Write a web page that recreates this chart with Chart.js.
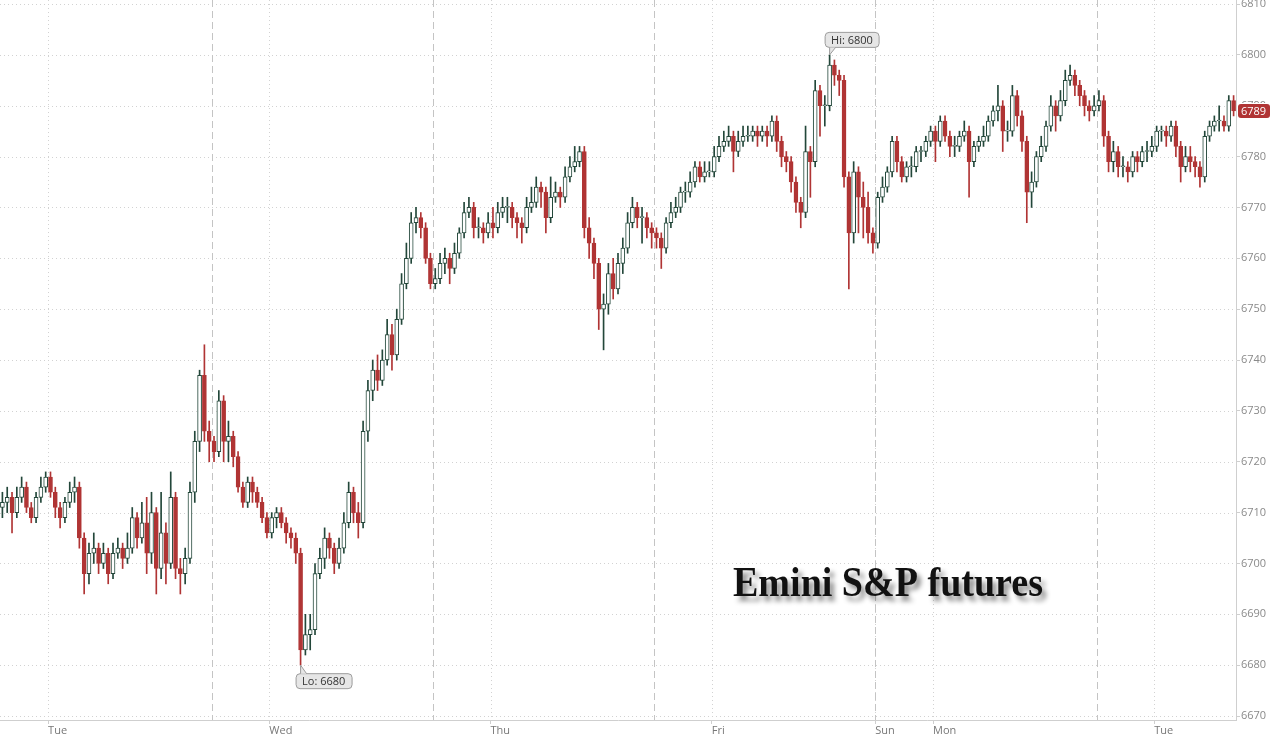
<!DOCTYPE html>
<html>
<head>
<meta charset="utf-8">
<script src="https://cdn.jsdelivr.net/npm/chart.js@4.4.1/dist/chart.umd.min.js"></script>
<style>
  html, body { margin: 0; padding: 0; background: #fff; }
  #wrap { width: 1280px; height: 740px; position: relative; }
</style>
</head>
<body>
<div id="wrap"><canvas id="chart"></canvas></div>
<script>
// 30-minute candles, ES futures. open of each bar = previous close
const firstOpen = 6711;

const closes = [
  6712, 6713, 6710, 6713, 6715, 6711, 6709, 6713, 6715, 6717,
  6714, 6711, 6709, 6712, 6714, 6715, 6705, 6698, 6702, 6703,
  6700, 6702, 6698, 6702, 6703, 6701, 6703, 6709, 6705, 6708,
  6702, 6710, 6699, 6706, 6700, 6713, 6699, 6698, 6701, 6714,
  6724, 6737, 6726, 6724, 6722, 6732, 6724, 6725, 6721, 6715,
  6712, 6716, 6714, 6712, 6709, 6706, 6709, 6710, 6708, 6706,
  6705, 6702, 6683, 6686, 6687, 6698, 6701, 6705, 6703, 6700,
  6703, 6708, 6714, 6710, 6708, 6726, 6734, 6738, 6736, 6740,
  6745, 6741, 6748, 6755, 6760, 6767, 6768, 6766, 6760, 6755,
  6756, 6759, 6760, 6758, 6761, 6765, 6769, 6770, 6766, 6766,
  6765, 6767, 6766, 6769, 6770, 6770, 6768, 6767, 6766, 6770,
  6771, 6774, 6773, 6768, 6772, 6773, 6772, 6776, 6778, 6779,
  6781, 6766, 6763, 6759, 6750, 6751, 6757, 6754, 6759, 6762,
  6767, 6770, 6768, 6768, 6766, 6765, 6764, 6762, 6767, 6769,
  6770, 6773, 6773, 6775, 6778, 6776, 6777, 6777, 6780, 6782,
  6783, 6784, 6781, 6783, 6784, 6784, 6785, 6784, 6785, 6784,
  6787, 6783, 6780, 6779, 6775, 6771, 6769, 6781, 6779, 6793,
  6790, 6790, 6798, 6796, 6795, 6776, 6765, 6777, 6772, 6770,
  6765, 6763, 6772, 6774, 6777, 6783, 6779, 6776, 6778, 6778,
  6781, 6781, 6783, 6785, 6783, 6787, 6784, 6782, 6782, 6784,
  6785, 6779, 6782, 6783, 6784, 6787, 6789, 6790, 6785, 6785,
  6792, 6788, 6783, 6773, 6775, 6780, 6782, 6786, 6790, 6788,
  6791, 6795, 6796, 6794, 6792, 6790, 6789, 6790, 6791, 6784,
  6779, 6781, 6778, 6778, 6777, 6780, 6779, 6781, 6781, 6782,
  6785, 6785, 6784, 6786, 6782, 6778, 6780, 6779, 6778, 6776,
  6784, 6786, 6787, 6787, 6786, 6791, 6789
];

const highs = [
  6714, 6715, 6714, 6715, 6717, 6716, 6712, 6714, 6717, 6718,
  6718, 6715, 6712, 6713, 6716, 6717, 6716, 6706, 6704, 6706,
  6704, 6704, 6703, 6704, 6705, 6704, 6706, 6711, 6710, 6712,
  6713, 6714, 6711, 6714, 6708, 6718, 6714, 6701, 6703, 6716,
  6726, 6738, 6743, 6728, 6725, 6734, 6733, 6728, 6726, 6722,
  6716, 6717, 6717, 6715, 6713, 6710, 6710, 6711, 6711, 6709,
  6707, 6706, 6703, 6690, 6690, 6700, 6703, 6707, 6706, 6704,
  6705, 6710, 6716, 6715, 6712, 6728, 6736, 6740, 6741, 6742,
  6748, 6747, 6750, 6757, 6763, 6769, 6770, 6769, 6767, 6761,
  6758, 6761, 6762, 6761, 6763, 6766, 6771, 6772, 6771, 6768,
  6767, 6769, 6770, 6771, 6772, 6772, 6771, 6769, 6768, 6772,
  6774, 6776, 6775, 6774, 6776, 6775, 6774, 6778, 6780, 6782,
  6782, 6782, 6768, 6764, 6760, 6753, 6759, 6760, 6761, 6764,
  6769, 6772, 6771, 6770, 6769, 6767, 6766, 6765, 6768, 6771,
  6772, 6774, 6775, 6777, 6779, 6779, 6779, 6779, 6782, 6784,
  6785, 6786, 6785, 6785, 6786, 6786, 6786, 6786, 6786, 6786,
  6788, 6788, 6784, 6781, 6780, 6776, 6772, 6786, 6782, 6795,
  6794, 6792, 6800, 6799, 6797, 6796, 6777, 6779, 6778, 6775,
  6773, 6766, 6773, 6776, 6778, 6784, 6784, 6780, 6779, 6780,
  6782, 6782, 6784, 6786, 6786, 6788, 6788, 6785, 6784, 6785,
  6787, 6786, 6783, 6784, 6786, 6788, 6790, 6794, 6791, 6787,
  6794, 6793, 6789, 6784, 6777, 6781, 6784, 6787, 6792, 6791,
  6793, 6797, 6798, 6797, 6795, 6793, 6791, 6792, 6793, 6792,
  6785, 6783, 6782, 6780, 6779, 6781, 6781, 6782, 6783, 6784,
  6786, 6786, 6786, 6787, 6787, 6783, 6782, 6782, 6780, 6779,
  6785, 6787, 6788, 6790, 6788, 6792, 6792
];

const lows = [
  6709, 6710, 6706, 6709, 6712, 6710, 6708, 6708, 6712, 6714,
  6713, 6709, 6707, 6708, 6711, 6712, 6703, 6694, 6696, 6700,
  6698, 6699, 6696, 6697, 6701, 6699, 6700, 6702, 6703, 6704,
  6698, 6700, 6694, 6697, 6696, 6699, 6697, 6694, 6696, 6700,
  6712, 6722, 6724, 6720, 6720, 6721, 6720, 6720, 6719, 6714,
  6711, 6711, 6712, 6711, 6708, 6705, 6705, 6707, 6707, 6704,
  6703, 6700, 6680, 6682, 6683, 6686, 6697, 6699, 6701, 6698,
  6699, 6702, 6707, 6708, 6705, 6707, 6724, 6732, 6734, 6735,
  6739, 6738, 6740, 6747, 6754, 6759, 6765, 6764, 6759, 6754,
  6754, 6755, 6757, 6755, 6757, 6760, 6764, 6768, 6764, 6764,
  6763, 6764, 6764, 6765, 6768, 6767, 6766, 6764, 6763, 6765,
  6769, 6770, 6770, 6765, 6767, 6771, 6770, 6771, 6775, 6777,
  6778, 6764, 6760, 6756, 6746, 6742, 6749, 6752, 6753, 6757,
  6761, 6766, 6766, 6763, 6764, 6762, 6762, 6758, 6761, 6766,
  6768, 6769, 6771, 6772, 6774, 6775, 6775, 6776, 6776, 6779,
  6781, 6782, 6777, 6780, 6782, 6783, 6783, 6782, 6783, 6782,
  6783, 6781, 6778, 6777, 6773, 6769, 6766, 6768, 6772, 6778,
  6784, 6786, 6789, 6794, 6792, 6774, 6754, 6763, 6765, 6764,
  6763, 6761, 6762, 6771, 6773, 6776, 6777, 6775, 6775, 6776,
  6777, 6779, 6780, 6782, 6779, 6782, 6783, 6780, 6780, 6781,
  6783, 6772, 6778, 6781, 6782, 6783, 6786, 6787, 6781, 6783,
  6784, 6786, 6781, 6767, 6770, 6774, 6779, 6781, 6785, 6785,
  6787, 6790, 6794, 6792, 6790, 6788, 6787, 6788, 6789, 6782,
  6777, 6777, 6776, 6776, 6775, 6776, 6777, 6778, 6779, 6780,
  6781, 6783, 6782, 6783, 6780, 6775, 6777, 6777, 6776, 6774,
  6775, 6783, 6785, 6785, 6785, 6785, 6788
];

// session opens (18:00) and midnight day labels, in bar index units
const sessionBreaks = [43.5, 89.5, 135.5, 181.5, 227.5];
const dayTicks = [9.5, 55.5, 101.5, 147.5, 181.5, 193.5, 239.5];
const dayLabels = ['Tue', 'Wed', 'Thu', 'Fri', 'Sun', 'Mon', 'Tue'];
const priceTicks = [6670, 6680, 6690, 6700, 6710, 6720, 6730, 6740, 6750, 6760, 6770, 6780, 6790, 6800, 6810];
const titleText = 'Emini S&P futures';

const opens = closes.map((c, i) => i === 0 ? firstOpen : closes[i - 1]);
const isUp = i => closes[i] >= opens[i];

const upColor = '#23473a';
const downColor = '#b03434';
const fontName = '"Open Sans", "DejaVu Sans", sans-serif';

const bodies = closes.map((c, i) => ({ x: i, y: [opens[i], c] }));
const wicks = closes.map((c, i) => ({ x: i, y: [lows[i], highs[i]] }));

function roundRect(ctx, x, y, w, h, r) {
    ctx.beginPath();
    ctx.moveTo(x + r, y);
    ctx.lineTo(x + w - r, y);
    ctx.quadraticCurveTo(x + w, y, x + w, y + r);
    ctx.lineTo(x + w, y + h - r);
    ctx.quadraticCurveTo(x + w, y + h, x + w - r, y + h);
    ctx.lineTo(x + r, y + h);
    ctx.quadraticCurveTo(x, y + h, x, y + h - r);
    ctx.lineTo(x, y + r);
    ctx.quadraticCurveTo(x, y, x + r, y);
    ctx.closePath();
}

const gridPlugin = {
    id: 'gridLines',
    beforeDatasetsDraw(chart) {
        const { ctx, chartArea: a, scales: { x, y } } = chart;
        ctx.save();
        ctx.lineWidth = 1;
        ctx.strokeStyle = '#d2d2d2';
        ctx.setLineDash([1, 3]);
        priceTicks.forEach(v => {
            const py = Math.round(y.getPixelForValue(v)) + 0.5;
            ctx.beginPath(); ctx.moveTo(a.left, py); ctx.lineTo(a.right, py); ctx.stroke();
        });
        dayTicks.forEach(v => {
            const px = Math.round(x.getPixelForValue(v)) + 0.5;
            ctx.beginPath(); ctx.moveTo(px, a.top); ctx.lineTo(px, a.bottom); ctx.stroke();
        });
        ctx.strokeStyle = '#c4c4c4';
        ctx.setLineDash([7, 4]);
        sessionBreaks.forEach(v => {
            const px = Math.round(x.getPixelForValue(v)) + 0.5;
            ctx.beginPath(); ctx.moveTo(px, a.top); ctx.lineTo(px, a.bottom); ctx.stroke();
        });
        ctx.restore();
    }
};

function callout(ctx, text, px, py, above) {
    ctx.font = '11px ' + fontName;
    const w = Math.ceil(ctx.measureText(text).width) + 12;
    const h = 15;
    const bx = px - 5;
    const by = above ? py - 8 - h : py + 8;
    ctx.fillStyle = '#e6e6e6';
    ctx.strokeStyle = '#9c9c9c';
    ctx.lineWidth = 1;
    roundRect(ctx, bx + 0.5, by + 0.5, w, h, 4);
    ctx.fill();
    ctx.stroke();
    // pointer
    const ey = above ? by + h + 0.5 : by + 0.5;
    ctx.beginPath();
    ctx.moveTo(bx + 5, ey);
    ctx.lineTo(px, py);
    ctx.lineTo(bx + 11, ey);
    ctx.fillStyle = '#e6e6e6';
    ctx.fill();
    ctx.beginPath();
    ctx.moveTo(bx + 5, ey); ctx.lineTo(px, py); ctx.lineTo(bx + 11, ey);
    ctx.stroke();
    ctx.fillStyle = '#333';
    ctx.textAlign = 'left';
    ctx.textBaseline = 'middle';
    ctx.fillText(text, bx + 6.5, by + h / 2 + 1);
}

const annotationPlugin = {
    id: 'annotations',
    afterDatasetsDraw(chart) {
        const { ctx, scales: { x, y } } = chart;
        ctx.save();
        // title
        ctx.font = 'bold 40px "Liberation Serif", "Times New Roman", serif';
        const tw = ctx.measureText(titleText).width;
        const sx = 310 / tw;
        ctx.translate(733, 596);
        ctx.scale(sx, sx * 1.12);
        ctx.shadowColor = 'rgba(0,0,0,0.45)';
        ctx.shadowOffsetX = 4;
        ctx.shadowOffsetY = 5;
        ctx.shadowBlur = 5;
        ctx.fillStyle = '#111';
        ctx.textAlign = 'left';
        ctx.textBaseline = 'alphabetic';
        ctx.fillText(titleText, 0, 0);
        ctx.restore();

        // Hi / Lo
        ctx.save();
        const hi = Math.max(...highs);
        const lo = Math.min(...lows);
        const hiIdx = highs.indexOf(hi);
        const loIdx = lows.indexOf(lo);
        callout(ctx, 'Hi: ' + hi, x.getPixelForValue(hiIdx), y.getPixelForValue(hi), true);
        callout(ctx, 'Lo: ' + lo, x.getPixelForValue(loIdx), y.getPixelForValue(lo), false);
        ctx.restore();
    },
    afterDraw(chart) {
        const { ctx, chartArea: a, scales: { y } } = chart;
        const last = closes[closes.length - 1];
        const py = Math.round(y.getPixelForValue(last));
        ctx.save();
        ctx.font = '11px ' + fontName;
        ctx.fillStyle = '#fff';
        ctx.fillRect(a.right + 1, py - 8, 43, 16);
        const w = Math.ceil(ctx.measureText(String(last)).width) + 6;
        ctx.fillStyle = downColor;
        roundRect(ctx, a.right + 2, py - 7, w, 14, 3);
        ctx.fill();
        ctx.fillStyle = '#fff';
        ctx.textAlign = 'left';
        ctx.textBaseline = 'middle';
        ctx.fillText(String(last), a.right + 5, py + 0.5);
        ctx.restore();
    }
};

new Chart(document.getElementById('chart'), {
    type: 'bar',
    data: {
        datasets: [
            {
                label: 'wick',
                data: wicks,
                order: 2,
                grouped: false,
                barThickness: 1,
                borderWidth: 0,
                backgroundColor: c => isUp(c.dataIndex) ? upColor : downColor
            },
            {
                label: 'body',
                data: bodies,
                order: 1,
                grouped: false,
                barThickness: 4,
                minBarLength: 1,
                borderWidth: 1,
                borderSkipped: false,
                borderColor: c => isUp(c.dataIndex) ? upColor : downColor,
                backgroundColor: c => isUp(c.dataIndex) ? '#ffffff' : downColor
            }
        ]
    },
    options: {
        responsive: true,
        maintainAspectRatio: false,
        animation: false,
        layout: { padding: 0 },
        plugins: {
            legend: { display: false },
            tooltip: { enabled: false }
        },
        scales: {
            x: {
                type: 'linear',
                offset: false,
                min: -0.5,
                max: closes.length - 0.5,
                afterBuildTicks: s => { s.ticks = dayTicks.map(v => ({ value: v })); },
                afterFit: s => { s.height = 20; s.paddingLeft = 0; s.paddingRight = 0; },
                ticks: {
                    autoSkip: false,
                    maxRotation: 0,
                    align: 'start',
                    padding: 0,
                    color: '#777',
                    font: { family: fontName, size: 11 },
                    callback: (v, i) => dayLabels[i]
                },
                grid: {
                    offset: false,
                    drawOnChartArea: false,
                    drawTicks: true,
                    tickLength: 4,
                    tickColor: '#cfcfcf'
                },
                border: { color: '#cfcfcf' }
            },
            y: {
                position: 'right',
                min: 6669.22,
                max: 6810.79,
                afterBuildTicks: s => { s.ticks = priceTicks.map(v => ({ value: v })); },
                afterFit: s => { s.width = 44; s.paddingTop = 0; s.paddingBottom = 0; },
                ticks: {
                    padding: 1,
                    color: '#8a8a8a',
                    font: { family: fontName, size: 11 },
                    callback: v => String(v)
                },
                grid: {
                    drawOnChartArea: false,
                    drawTicks: true,
                    tickLength: 4,
                    tickColor: '#cfcfcf'
                },
                border: { color: '#cfcfcf' }
            }
        }
    },
    plugins: [gridPlugin, annotationPlugin]
});
</script>
</body>
</html>
